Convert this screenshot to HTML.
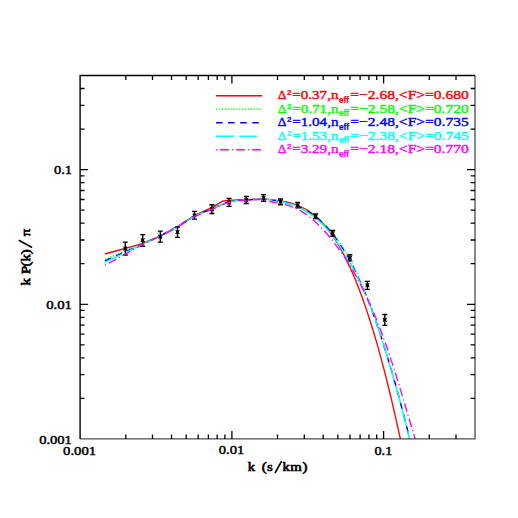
<!DOCTYPE html><html><head><meta charset="utf-8"><style>html,body{margin:0;padding:0;background:#fff}svg{display:block}text{font-family:"Liberation Serif",serif}</style></head><body>
<svg width="518" height="518" viewBox="0 0 518 518">
<rect width="518" height="518" fill="#fff"/>
<polyline points="104.9,254.0 142.3,243.7 160.3,235.8 177.1,226.9 194.4,215.6 211.6,207.7 223.2,201.0 237.0,200.0 246.3,199.8 263.4,198.8 266.4,199.2 269.4,199.5 272.4,199.9 275.4,200.2 278.4,200.6 281.4,201.1 284.4,201.6 287.4,202.2 290.4,202.9 293.4,203.8 296.4,204.9 299.4,206.1 302.4,207.5 305.4,209.1 308.4,210.9 311.4,213.0 314.4,215.4 317.4,218.0 320.4,220.9 323.4,224.0 326.4,227.6 329.4,231.4 332.4,235.6 335.4,240.1 338.4,245.0 341.4,250.2 344.4,255.8 347.4,261.9 350.4,268.3 353.4,275.1 356.4,282.3 359.4,290.0 362.4,298.1 365.4,306.6 368.4,315.6 371.4,325.0 374.4,334.8 377.4,345.1 380.4,355.9 383.4,367.1 386.4,378.8 389.4,391.0 392.4,403.6 395.4,416.6 398.4,430.2 400.4,438.9" fill="none" stroke="#f00" stroke-width="1.35"/>
<polyline points="104.9,259.4 142.3,243.8 160.3,235.5 177.1,226.6 194.4,215.6 211.6,208.7 224.9,202.8 237.0,199.8 246.3,199.7 263.4,198.7 266.4,199.2 269.4,199.6 272.4,200.1 275.4,200.6 278.4,201.1 281.4,201.6 284.4,202.3 287.4,203.0 290.4,203.8 293.5,204.7 296.6,205.7 299.7,206.9 302.7,208.2 305.8,209.8 308.9,211.5 312.0,213.4 315.1,215.5 318.1,217.8 321.1,220.5 324.1,223.3 327.1,226.4 330.1,229.8 333.1,233.5 336.1,237.4 339.1,241.6 342.1,246.2 345.1,251.0 348.1,256.2 351.1,261.6 354.1,267.4 357.1,273.5 360.1,279.9 363.1,286.7 366.1,293.8 369.1,301.3 372.0,309.1 374.8,317.3 377.6,325.9 380.4,334.8 383.2,344.0 386.0,353.6 388.9,363.5 391.9,373.6 394.9,384.2 397.9,395.0 400.9,406.2 403.9,417.7 406.9,429.5 409.1,439.1" fill="none" stroke="#0f0" stroke-width="1.35" stroke-dasharray="1.2 1.7"/>
<polyline points="104.9,260.9 142.3,244.1 160.3,235.8 177.1,226.9 194.4,215.9 211.6,209.0 224.9,203.2 237.0,200.2 246.3,200.0 263.4,198.7 266.4,199.2 269.4,199.6 272.4,200.1 275.4,200.6 278.4,201.1 281.4,201.6 284.4,202.3 287.4,203.0 290.4,203.8 293.4,204.7 296.4,205.8 299.4,207.0 302.4,208.4 305.4,209.9 308.4,211.7 311.4,213.6 314.4,215.8 317.4,218.1 320.4,220.8 323.4,223.6 326.4,226.7 329.4,230.1 332.4,233.8 335.4,237.7 338.4,241.9 341.4,246.5 344.4,251.3 347.4,256.5 350.4,261.9 353.4,267.7 356.4,273.8 359.4,280.2 362.4,287.0 365.4,294.1 368.4,301.6 371.4,309.3 374.4,317.5 377.4,326.0 380.4,334.8 383.4,343.9 386.4,353.4 389.4,363.3 392.4,373.4 395.4,384.0 398.4,394.8 401.4,406.0 404.4,417.5 407.4,429.3 409.6,438.9" fill="none" stroke="#00f" stroke-width="1.35" stroke-dasharray="6.5 5.6"/>
<polyline points="104.9,262.3 142.3,244.4 160.3,236.2 177.1,227.2 194.4,216.2 211.6,209.3 224.9,203.5 237.0,200.5 246.3,200.3 263.4,198.7 266.4,199.2 269.4,199.6 272.4,200.1 275.4,200.6 278.4,201.1 281.4,201.6 284.4,202.3 287.3,203.1 290.2,204.0 293.0,205.0 295.9,206.2 298.8,207.5 301.6,209.0 304.5,210.6 307.5,212.4 310.5,214.3 313.5,216.5 316.5,218.8 319.5,221.5 322.5,224.3 325.5,227.4 328.5,230.8 331.5,234.5 334.5,238.4 337.5,242.6 340.5,247.2 343.5,252.0 346.6,257.1 349.7,262.4 352.9,268.1 356.0,274.1 359.1,280.4 362.3,287.1 365.4,294.1 368.4,301.6 371.4,309.3 374.4,317.5 377.4,326.0 380.4,334.8 383.4,343.9 386.4,353.4 389.4,363.3 392.4,373.4 395.4,384.0 398.4,394.8 401.4,406.0 404.4,417.5 407.4,429.3 409.6,438.9" fill="none" stroke="#0ff" stroke-width="1.35" stroke-dasharray="18 5.2"/>
<path d="M125.3 242.1V255.0M122.8 242.1h5M122.8 255.0h5" stroke="#000" stroke-width="1.35" fill="none"/>
<path d="M123.5 246.7l3.6 3.6M123.5 250.3l3.6 -3.6M123.8 248.5h3" stroke="#000" stroke-width="1.2" fill="none"/>
<path d="M142.7 234.6V246.2M140.2 234.6h5M140.2 246.2h5" stroke="#000" stroke-width="1.35" fill="none"/>
<path d="M140.9 238.4l3.6 3.6M140.9 242.0l3.6 -3.6M141.2 240.2h3" stroke="#000" stroke-width="1.2" fill="none"/>
<path d="M160.3 231.1V242.1M157.8 231.1h5M157.8 242.1h5" stroke="#000" stroke-width="1.35" fill="none"/>
<path d="M158.5 234.9l3.6 3.6M158.5 238.5l3.6 -3.6M158.8 236.7h3" stroke="#000" stroke-width="1.2" fill="none"/>
<path d="M177.5 227.0V237.3M175.0 227.0h5M175.0 237.3h5" stroke="#000" stroke-width="1.35" fill="none"/>
<path d="M175.7 230.2l3.6 3.6M175.7 233.8l3.6 -3.6M176.0 232.0h3" stroke="#000" stroke-width="1.2" fill="none"/>
<path d="M194.5 211.4V219.1M192.0 211.4h5M192.0 219.1h5" stroke="#000" stroke-width="1.35" fill="none"/>
<path d="M192.7 213.6l3.6 3.6M192.7 217.2l3.6 -3.6M193.0 215.4h3" stroke="#000" stroke-width="1.2" fill="none"/>
<path d="M211.9 204.7V213.5M209.4 204.7h5M209.4 213.5h5" stroke="#000" stroke-width="1.35" fill="none"/>
<path d="M210.1 207.4l3.6 3.6M210.1 211.0l3.6 -3.6M210.4 209.2h3" stroke="#000" stroke-width="1.2" fill="none"/>
<path d="M229.1 198.5V206.4M226.6 198.5h5M226.6 206.4h5" stroke="#000" stroke-width="1.35" fill="none"/>
<path d="M227.3 200.7l3.6 3.6M227.3 204.3l3.6 -3.6M227.6 202.5h3" stroke="#000" stroke-width="1.2" fill="none"/>
<path d="M246.3 196.5V203.5M243.8 196.5h5M243.8 203.5h5" stroke="#000" stroke-width="1.35" fill="none"/>
<path d="M244.5 198.2l3.6 3.6M244.5 201.8l3.6 -3.6M244.8 200.0h3" stroke="#000" stroke-width="1.2" fill="none"/>
<path d="M263.6 194.6V201.2M261.1 194.6h5M261.1 201.2h5" stroke="#000" stroke-width="1.35" fill="none"/>
<path d="M261.8 196.2l3.6 3.6M261.8 199.8l3.6 -3.6M262.1 198.0h3" stroke="#000" stroke-width="1.2" fill="none"/>
<path d="M280.5 199.0V204.7M278.0 199.0h5M278.0 204.7h5" stroke="#000" stroke-width="1.35" fill="none"/>
<path d="M278.7 200.0l3.6 3.6M278.7 203.6l3.6 -3.6M279.0 201.8h3" stroke="#000" stroke-width="1.2" fill="none"/>
<path d="M297.7 202.4V207.8M295.2 202.4h5M295.2 207.8h5" stroke="#000" stroke-width="1.35" fill="none"/>
<path d="M295.9 203.4l3.6 3.6M295.9 207.0l3.6 -3.6M296.2 205.2h3" stroke="#000" stroke-width="1.2" fill="none"/>
<path d="M315.6 214.0V218.6M313.1 214.0h5M313.1 218.6h5" stroke="#000" stroke-width="1.35" fill="none"/>
<path d="M313.8 214.5l3.6 3.6M313.8 218.1l3.6 -3.6M314.1 216.3h3" stroke="#000" stroke-width="1.2" fill="none"/>
<path d="M332.7 230.4V236.2M330.2 230.4h5M330.2 236.2h5" stroke="#000" stroke-width="1.35" fill="none"/>
<path d="M330.9 231.4l3.6 3.6M330.9 235.0l3.6 -3.6M331.2 233.2h3" stroke="#000" stroke-width="1.2" fill="none"/>
<path d="M349.9 254.7V260.9M347.4 254.7h5M347.4 260.9h5" stroke="#000" stroke-width="1.35" fill="none"/>
<path d="M348.1 256.0l3.6 3.6M348.1 259.6l3.6 -3.6M348.4 257.8h3" stroke="#000" stroke-width="1.2" fill="none"/>
<path d="M367.4 281.3V289.4M364.9 281.3h5M364.9 289.4h5" stroke="#000" stroke-width="1.35" fill="none"/>
<path d="M365.6 283.5l3.6 3.6M365.6 287.1l3.6 -3.6M365.9 285.3h3" stroke="#000" stroke-width="1.2" fill="none"/>
<path d="M384.8 314.5V325.4M382.3 314.5h5M382.3 325.4h5" stroke="#000" stroke-width="1.35" fill="none"/>
<path d="M383.0 318.0l3.6 3.6M383.0 321.6l3.6 -3.6M383.3 319.8h3" stroke="#000" stroke-width="1.2" fill="none"/>
<polyline points="104.9,265.3 142.3,244.6 160.3,236.3 177.1,227.4 194.4,216.4 211.6,209.5 224.9,203.7 237.0,200.7 246.3,200.5 263.4,199.2 266.4,200.4 269.4,201.3 272.4,202.0 275.4,202.6 278.4,203.1 281.4,203.7 284.4,204.4 287.4,205.2 290.4,206.1 293.4,207.3 296.4,208.6 299.4,210.2 302.4,211.9 305.4,213.9 308.4,216.1 311.4,218.4 314.4,221.0 317.4,223.8 320.4,226.8 323.4,229.9 326.4,233.2 329.4,236.7 332.4,240.4 335.4,244.3 338.4,248.3 341.4,252.5 344.4,257.0 347.4,261.6 350.4,266.4 353.4,271.4 356.4,276.7 359.4,282.3 362.4,288.1 365.4,294.2 368.4,300.6 371.4,307.3 374.4,314.3 377.4,321.7 380.4,329.5 383.4,337.5 386.4,346.0 389.4,354.8 392.4,363.9 395.4,373.3 398.4,383.0 401.4,392.9 404.4,402.9 407.4,413.1 410.4,423.2 413.4,433.2 415.1,438.9" fill="none" stroke="#f0f" stroke-width="1.35" stroke-dasharray="1.2 3.1 8.6 3.1"/>
<path d="M80.1 438.9V75.5H475.0" stroke="#000" stroke-width="1.4" fill="none"/>
<path d="M80.1 438.9H475.0V75.5" stroke="#000" stroke-width="1.3" fill="none" opacity="0.7"/>
<path d="M125.8 438.9v-4.4M125.8 75.5v4.4M152.5 438.9v-4.4M152.5 75.5v4.4M171.5 438.9v-4.4M171.5 75.5v4.4M186.2 438.9v-4.4M186.2 75.5v4.4M198.2 438.9v-4.4M198.2 75.5v4.4M208.4 438.9v-4.4M208.4 75.5v4.4M217.2 438.9v-4.4M217.2 75.5v4.4M224.9 438.9v-4.4M224.9 75.5v4.4M231.9 438.9v-8.0M231.9 75.5v8.0M277.5 438.9v-4.4M277.5 75.5v4.4M304.3 438.9v-4.4M304.3 75.5v4.4M323.2 438.9v-4.4M323.2 75.5v4.4M337.9 438.9v-4.4M337.9 75.5v4.4M350.0 438.9v-4.4M350.0 75.5v4.4M360.1 438.9v-4.4M360.1 75.5v4.4M368.9 438.9v-4.4M368.9 75.5v4.4M376.7 438.9v-4.4M376.7 75.5v4.4M383.6 438.9v-8.0M383.6 75.5v8.0M429.3 438.9v-4.4M429.3 75.5v4.4M456.0 438.9v-4.4M456.0 75.5v4.4M80.1 398.4h4.4M475.0 398.4h-4.4M80.1 374.7h4.4M475.0 374.7h-4.4M80.1 357.8h4.4M475.0 357.8h-4.4M80.1 344.8h4.4M475.0 344.8h-4.4M80.1 334.1h4.4M475.0 334.1h-4.4M80.1 325.1h4.4M475.0 325.1h-4.4M80.1 317.3h4.4M475.0 317.3h-4.4M80.1 310.4h4.4M475.0 310.4h-4.4M80.1 304.3h8.0M475.0 304.3h-8.0M80.1 263.7h4.4M475.0 263.7h-4.4M80.1 240.0h4.4M475.0 240.0h-4.4M80.1 223.2h4.4M475.0 223.2h-4.4M80.1 210.1h4.4M475.0 210.1h-4.4M80.1 199.5h4.4M475.0 199.5h-4.4M80.1 190.5h4.4M475.0 190.5h-4.4M80.1 182.7h4.4M475.0 182.7h-4.4M80.1 175.8h4.4M475.0 175.8h-4.4M80.1 169.6h8.0M475.0 169.6h-8.0M80.1 129.1h4.4M475.0 129.1h-4.4M80.1 105.4h4.4M475.0 105.4h-4.4M80.1 88.5h4.4M475.0 88.5h-4.4" stroke="#000" stroke-width="1.3" fill="none"/>
<text transform="translate(54.00 174.10) scale(1.0746 1)" font-size="13.4" font-weight="normal" style="font-family:'Liberation Serif'" stroke="#000" stroke-width="0.5">0.1</text>
<text transform="translate(46.20 309.00) scale(1.1008 1)" font-size="13.4" font-weight="normal" style="font-family:'Liberation Serif'" stroke="#000" stroke-width="0.5">0.01</text>
<text transform="translate(39.20 443.50) scale(1.0816 1)" font-size="13.4" font-weight="normal" style="font-family:'Liberation Serif'" stroke="#000" stroke-width="0.5">0.001</text>
<text transform="translate(63.10 454.50) scale(1.0949 1)" font-size="13.4" font-weight="normal" style="font-family:'Liberation Serif'" stroke="#000" stroke-width="0.5">0.001</text>
<text transform="translate(218.80 454.30) scale(1.0837 1)" font-size="13.4" font-weight="normal" style="font-family:'Liberation Serif'" stroke="#000" stroke-width="0.5">0.01</text>
<text transform="translate(374.50 454.50) scale(1.0627 1)" font-size="13.4" font-weight="normal" style="font-family:'Liberation Serif'" stroke="#000" stroke-width="0.5">0.1</text>
<g font-size="13.4" stroke="#000" stroke-width="0.7">
<g transform="scale(1.1 1)">
<text y="470.7" x="225.27 231.82 238.00 242.73">k (s</text>
<text y="470.7" x="256.82 263.82 275.09">km)</text>
</g>
<path d="M275 473.1L281.6 461.2" stroke-width="1.7" fill="none"/>
<g transform="translate(29.7 285.5) rotate(-90)">
<g transform="scale(1.1 1)">
<text y="0" x="0.00 6.36 10.45 17.27 21.82 28.36">k P(k)</text>
<text y="0" x="44.73">π</text>
</g>
<path d="M37.9 2.4L45.2 -10.9" stroke-width="1.7" fill="none"/>
</g></g>
<line x1="216" y1="95.8" x2="262.2" y2="95.8" stroke="#f00" stroke-width="1.4"/>
<g style="fill:#f00;stroke:#f00;stroke-width:0.42px" font-size="13.4">
<text transform="translate(277.70 99.20) scale(1.0087 1)" font-size="13.4" font-weight="normal" style="font-family:'Liberation Serif'">Δ</text>
<text transform="translate(286.90 95.00) scale(1.0249 1)" font-size="7.9" font-weight="bold" style="font-family:'Liberation Sans'" stroke-width="0.25">2</text>
<text transform="translate(292.20 99.20) scale(1.1284 1)" font-size="13.4" font-weight="normal" style="font-family:'Liberation Serif'">=0.37,n</text>
<text transform="translate(339.00 102.80) scale(0.9209 1)" font-size="8.9" font-weight="bold" style="font-family:'Liberation Sans'" stroke-width="0.25">eff</text>
<text transform="translate(350.30 99.20) scale(1.1594 1)" font-size="13.4" font-weight="normal" style="font-family:'Liberation Serif'">=−2.68,&lt;F&gt;=0.680</text>
</g>
<line x1="216" y1="109.3" x2="262.2" y2="109.3" stroke="#0f0" stroke-width="1.4" stroke-dasharray="1.2 1.7"/>
<g style="fill:#0f0;stroke:#0f0;stroke-width:0.42px" font-size="13.4">
<text transform="translate(277.70 112.70) scale(1.0087 1)" font-size="13.4" font-weight="normal" style="font-family:'Liberation Serif'">Δ</text>
<text transform="translate(286.90 108.50) scale(1.0249 1)" font-size="7.9" font-weight="bold" style="font-family:'Liberation Sans'" stroke-width="0.25">2</text>
<text transform="translate(292.20 112.70) scale(1.1284 1)" font-size="13.4" font-weight="normal" style="font-family:'Liberation Serif'">=0.71,n</text>
<text transform="translate(339.00 116.30) scale(0.9209 1)" font-size="8.9" font-weight="bold" style="font-family:'Liberation Sans'" stroke-width="0.25">eff</text>
<text transform="translate(350.30 112.70) scale(1.1594 1)" font-size="13.4" font-weight="normal" style="font-family:'Liberation Serif'">=−2.58,&lt;F&gt;=0.720</text>
</g>
<line x1="216" y1="122.8" x2="262.2" y2="122.8" stroke="#00f" stroke-width="1.4" stroke-dasharray="6.5 5.6"/>
<g style="fill:#00f;stroke:#00f;stroke-width:0.42px" font-size="13.4">
<text transform="translate(277.70 126.20) scale(1.0087 1)" font-size="13.4" font-weight="normal" style="font-family:'Liberation Serif'">Δ</text>
<text transform="translate(286.90 122.00) scale(1.0249 1)" font-size="7.9" font-weight="bold" style="font-family:'Liberation Sans'" stroke-width="0.25">2</text>
<text transform="translate(292.20 126.20) scale(1.1284 1)" font-size="13.4" font-weight="normal" style="font-family:'Liberation Serif'">=1.04,n</text>
<text transform="translate(339.00 129.80) scale(0.9209 1)" font-size="8.9" font-weight="bold" style="font-family:'Liberation Sans'" stroke-width="0.25">eff</text>
<text transform="translate(350.30 126.20) scale(1.1594 1)" font-size="13.4" font-weight="normal" style="font-family:'Liberation Serif'">=−2.48,&lt;F&gt;=0.735</text>
</g>
<line x1="216" y1="136.3" x2="262.2" y2="136.3" stroke="#0ff" stroke-width="1.4" stroke-dasharray="18 5.2"/>
<g style="fill:#0ff;stroke:#0ff;stroke-width:0.42px" font-size="13.4">
<text transform="translate(277.70 139.70) scale(1.0087 1)" font-size="13.4" font-weight="normal" style="font-family:'Liberation Serif'">Δ</text>
<text transform="translate(286.90 135.50) scale(1.0249 1)" font-size="7.9" font-weight="bold" style="font-family:'Liberation Sans'" stroke-width="0.25">2</text>
<text transform="translate(292.20 139.70) scale(1.1284 1)" font-size="13.4" font-weight="normal" style="font-family:'Liberation Serif'">=1.53,n</text>
<text transform="translate(339.00 143.30) scale(0.9209 1)" font-size="8.9" font-weight="bold" style="font-family:'Liberation Sans'" stroke-width="0.25">eff</text>
<text transform="translate(350.30 139.70) scale(1.1594 1)" font-size="13.4" font-weight="normal" style="font-family:'Liberation Serif'">=−2.38,&lt;F&gt;=0.745</text>
</g>
<line x1="216" y1="149.8" x2="262.2" y2="149.8" stroke="#f0f" stroke-width="1.4" stroke-dasharray="1.2 3.1 8.6 3.1"/>
<g style="fill:#f0f;stroke:#f0f;stroke-width:0.42px" font-size="13.4">
<text transform="translate(277.70 153.20) scale(1.0087 1)" font-size="13.4" font-weight="normal" style="font-family:'Liberation Serif'">Δ</text>
<text transform="translate(286.90 149.00) scale(1.0249 1)" font-size="7.9" font-weight="bold" style="font-family:'Liberation Sans'" stroke-width="0.25">2</text>
<text transform="translate(292.20 153.20) scale(1.1284 1)" font-size="13.4" font-weight="normal" style="font-family:'Liberation Serif'">=3.29,n</text>
<text transform="translate(339.00 156.80) scale(0.9209 1)" font-size="8.9" font-weight="bold" style="font-family:'Liberation Sans'" stroke-width="0.25">eff</text>
<text transform="translate(350.30 153.20) scale(1.1594 1)" font-size="13.4" font-weight="normal" style="font-family:'Liberation Serif'">=−2.18,&lt;F&gt;=0.770</text>
</g>
</svg></body></html>
